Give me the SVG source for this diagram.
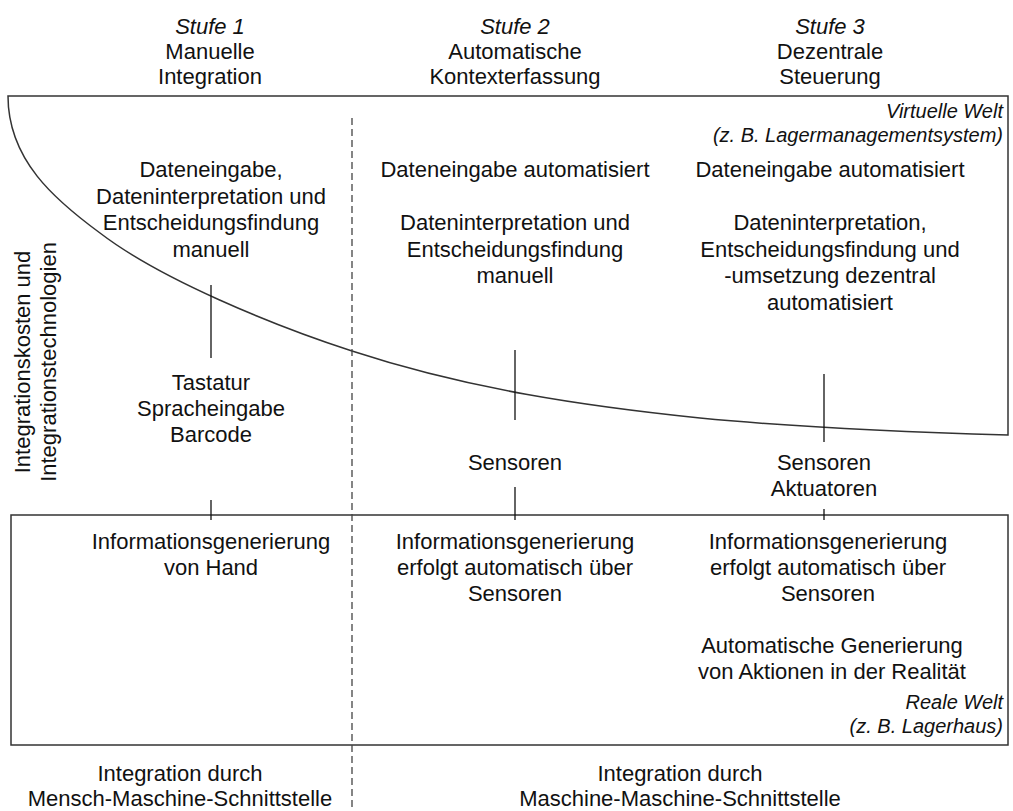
<svg xmlns="http://www.w3.org/2000/svg" width="1013" height="811" viewBox="0 0 1013 811">
<style>
text{font-family:"Liberation Sans",Arial,sans-serif;font-size:22px;fill:#111;text-anchor:middle}
.it{font-style:italic}
.wl{font-style:italic;font-size:20px;text-anchor:end}
.ln{stroke:#111;stroke-width:1.3;fill:none}
.bx{stroke:#333;stroke-width:1.5;fill:none}
.dash{stroke:#444;stroke-width:1.3;stroke-dasharray:7 4;fill:none}
</style>
<rect width="1013" height="811" fill="#fff"/>
<g id="virtual-world">
<path class="bx" d="M8,96 H1008 V435 C905,432 803,428 700,418 C584,406 468,389 352,351 C272,325 160,279 100,233 C55,200 8,160 8,96 Z"/>
<text class="wl" x="1003" y="118">Virtuelle Welt</text>
<text class="wl" x="1003" y="142">(z. B. Lagermanagementsystem)</text>
</g>
<g id="real-world">
<rect class="bx" x="11" y="515" width="997" height="230"/>
<text class="wl" x="1003" y="709">Reale Welt</text>
<text class="wl" x="1003" y="733">(z. B. Lagerhaus)</text>
</g>
<g id="connectors">
<line class="dash" x1="352" y1="118" x2="352" y2="811"/>
<line class="ln" x1="211" y1="285" x2="211" y2="358"/>
<line class="ln" x1="211" y1="500" x2="211" y2="520"/>
<line class="ln" x1="515" y1="350" x2="515" y2="420"/>
<line class="ln" x1="515" y1="487" x2="515" y2="520"/>
<line class="ln" x1="824" y1="374" x2="824" y2="442"/>
<line class="ln" x1="824" y1="509" x2="824" y2="520"/>
</g>
<g id="stage1-header">
<text class="it" x="210" y="34">Stufe 1</text>
<text x="210" y="59">Manuelle</text>
<text x="210" y="84">Integration</text>
</g>
<g id="stage2-header">
<text class="it" x="515" y="34">Stufe 2</text>
<text x="515" y="59">Automatische</text>
<text x="515" y="84">Kontexterfassung</text>
</g>
<g id="stage3-header">
<text class="it" x="830" y="34">Stufe 3</text>
<text x="830" y="59">Dezentrale</text>
<text x="830" y="84">Steuerung</text>
</g>
<g id="axis-label">
<text transform="translate(30,362) rotate(-90)">Integrationskosten und</text>
<text transform="translate(56,362) rotate(-90)">Integrationstechnologien</text>
</g>
<g id="stage1-virtual">
<text x="211" y="177">Dateneingabe,</text>
<text x="211" y="203.5">Dateninterpretation und</text>
<text x="211" y="230">Entscheidungsfindung</text>
<text x="211" y="256.5">manuell</text>
</g>
<g id="stage2-virtual">
<text x="515" y="177">Dateneingabe automatisiert</text>
<text x="515" y="230">Dateninterpretation und</text>
<text x="515" y="256.5">Entscheidungsfindung</text>
<text x="515" y="283">manuell</text>
</g>
<g id="stage3-virtual">
<text x="830" y="177">Dateneingabe automatisiert</text>
<text x="830" y="230">Dateninterpretation,</text>
<text x="830" y="256.5">Entscheidungsfindung und</text>
<text x="830" y="283">-umsetzung dezentral</text>
<text x="830" y="309.5">automatisiert</text>
</g>
<g id="stage1-tech">
<text x="211" y="390">Tastatur</text>
<text x="211" y="416">Spracheingabe</text>
<text x="211" y="442">Barcode</text>
</g>
<g id="stage2-tech">
<text x="515" y="470">Sensoren</text>
</g>
<g id="stage3-tech">
<text x="824" y="470">Sensoren</text>
<text x="824" y="496">Aktuatoren</text>
</g>
<g id="stage1-real">
<text x="211" y="549">Informationsgenerierung</text>
<text x="211" y="575">von Hand</text>
</g>
<g id="stage2-real">
<text x="515" y="549">Informationsgenerierung</text>
<text x="515" y="575">erfolgt automatisch über</text>
<text x="515" y="601">Sensoren</text>
</g>
<g id="stage3-real">
<text x="828" y="549">Informationsgenerierung</text>
<text x="828" y="575">erfolgt automatisch über</text>
<text x="828" y="601">Sensoren</text>
<text x="832" y="653">Automatische Generierung</text>
<text x="832" y="679">von Aktionen in der Realität</text>
</g>
<g id="bottom-left">
<text x="180" y="781">Integration durch</text>
<text x="180" y="806">Mensch-Maschine-Schnittstelle</text>
</g>
<g id="bottom-right">
<text x="680" y="781">Integration durch</text>
<text x="680" y="806">Maschine-Maschine-Schnittstelle</text>
</g>
</svg>
